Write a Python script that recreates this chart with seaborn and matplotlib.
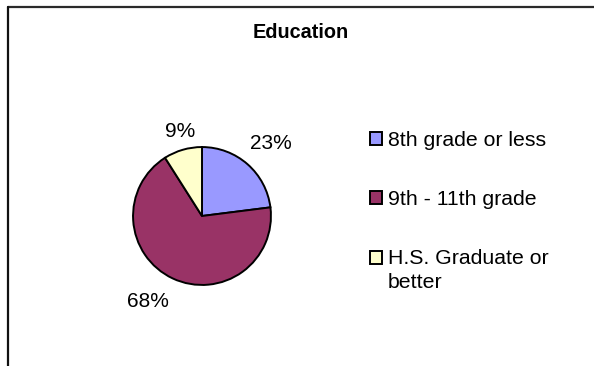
import matplotlib
matplotlib.use("Agg")
import matplotlib.pyplot as plt
import seaborn as sns
import numpy as np
from matplotlib.lines import Line2D
from matplotlib.patches import Rectangle

categories = ["8th grade or less", "9th - 11th grade", "H.S. Graduate or\nbetter"]
values = [23, 68, 9]
colors = ["#9999FF", "#993366", "#FFFFCC"]
title = "Education"

sns.set_theme(style="white")
plt.rcParams["font.family"] = ["Liberation Sans", "DejaVu Sans"]
plt.rcParams["text.color"] = "black"

W, H = 594, 366
fig = plt.figure(figsize=(W / 100, H / 100), dpi=100)
fig.patch.set_facecolor("white")

cx, cy, r = 202, 216, 70
ax = fig.add_axes([(cx - r) / W, (H - cy - r) / H, 2 * r / W, 2 * r / H])
wedges, texts, autotexts = ax.pie(
    values, colors=colors, startangle=90, counterclock=False,
    autopct=lambda p: f"{p:.0f}%", pctdistance=1.35, radius=0.985,
    wedgeprops=dict(edgecolor="black", linewidth=1.4),
    textprops=dict(fontsize=15, color="black"),
)
ax.set_xlim(-1, 1)
ax.set_ylim(-1, 1)
ax.set_aspect("equal")
ax.axis("off")

label_pos = [(0.98, 1.035), (-0.77, -1.22), (-0.31, 1.21)]
for t, (x, y) in zip(autotexts, label_pos):
    t.set_position((x, y))
    t.set_clip_on(False)
    t.set_ha("center")
    t.set_va("center")

fig.text(301 / W, 1 - 32 / H, title, ha="center", va="center",
         fontsize=14.3, fontweight="bold", color="black")

# legend (Excel style: square aligned with first text line)
leg_y = [138, 197, 257]
line_h = 24
for wedge, cat, y in zip(wedges, categories, leg_y):
    fig.add_artist(Rectangle((369.5 / W, 1 - (y + 6.5) / H), 12.5 / W, 12.5 / H,
                             transform=fig.transFigure,
                             facecolor=wedge.get_facecolor(),
                             edgecolor="black", linewidth=1.4))
    for k, line in enumerate(cat.split("\n")):
        fig.text(388 / W, 1 - (y + k * line_h) / H, line, ha="left",
                 va="center_baseline", fontsize=15.3, color="black")

fig.add_artist(Line2D([7.5 / W, 1], [1 - 6.5 / H, 1 - 6.5 / H],
                      transform=fig.transFigure, color="#2a2a2a", lw=1.6))
fig.add_artist(Line2D([7.5 / W, 7.5 / W], [0, 1 - 6.5 / H],
                      transform=fig.transFigure, color="#111111", lw=1.6))

fig.savefig("out.png", dpi=100, facecolor="white")
